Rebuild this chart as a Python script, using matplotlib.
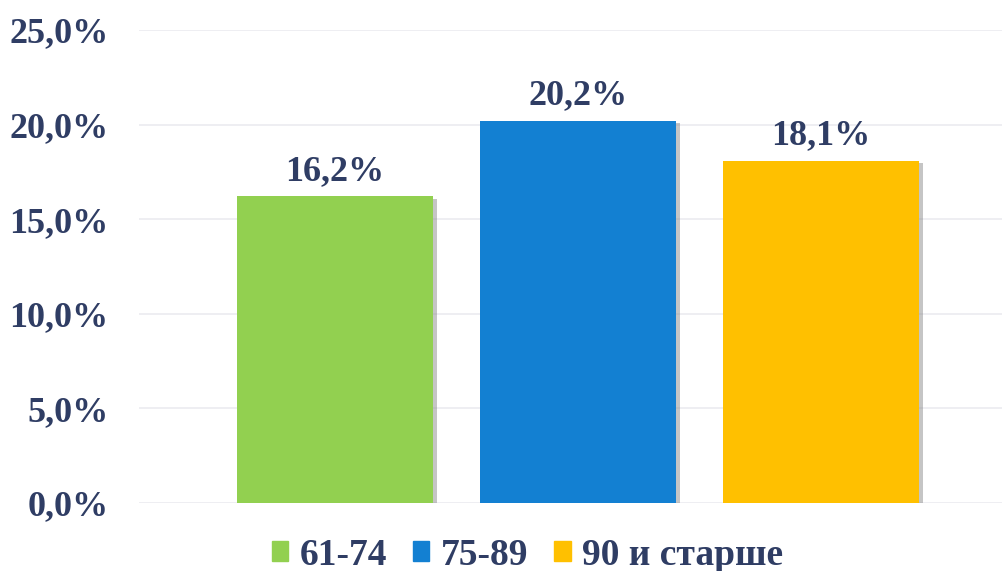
import matplotlib
matplotlib.use("Agg")
import matplotlib.pyplot as plt
import matplotlib.patheffects as pe

groups = ["61-74", "75-89", "90 и старше"]
values = [16.2, 20.2, 18.1]
colors = ["#92D050", "#1380D2", "#FFC000"]
yticks = [0, 5, 10, 15, 20, 25]

TEXT = "#2F3D64"
plt.rcParams["font.family"] = ["Liberation Serif", "DejaVu Serif"]
plt.rcParams["font.weight"] = "bold"

fig = plt.figure(figsize=(10.03, 5.71), dpi=100)
ax = fig.add_axes([139 / 1003, 68 / 571, 864 / 1003, 473 / 571])

x = list(range(len(groups)))
bars = ax.bar(x, values, width=0.807, color=colors, zorder=3)
for bar in bars:
    bar.set_path_effects([pe.SimplePatchShadow(offset=(2.5, -1.5), shadow_rgbFace="#7f7f7f", alpha=0.45), pe.Normal()])

for xi, v in zip(x, values):
    ax.text(xi, v + 0.45, f"{v:.1f}%".replace(".", ","), ha="center", va="bottom",
            fontsize=26, fontweight="bold", color=TEXT, clip_on=False)

ax.set_xlim(-0.807, 2.749)
ax.set_ylim(0, 25)
ax.set_yticks(yticks)
ax.set_yticklabels([f"{t:.1f}%".replace(".", ",") for t in yticks])
ax.tick_params(axis="y", length=0, pad=22, labelsize=26, labelcolor=TEXT)
ax.set_xticks([])
for s in ax.spines.values():
    s.set_visible(False)
ax.grid(axis="y", color="#EBEBF0", linewidth=1.2, zorder=0)
ax.set_axisbelow(True)

handles = [plt.Rectangle((0, 0), 1, 1, color=c) for c in colors]
leg = fig.legend(handles, groups, loc="center", bbox_to_anchor=(0.526, 0.028), ncol=3,
                 frameon=False, fontsize=27, handlelength=0.43, handleheight=0.43,
                 handletextpad=0.3, columnspacing=0.7, borderpad=0)
for t in leg.get_texts():
    t.set_color(TEXT)
    t.set_fontweight("bold")

fig.savefig("out.png", dpi=100)
